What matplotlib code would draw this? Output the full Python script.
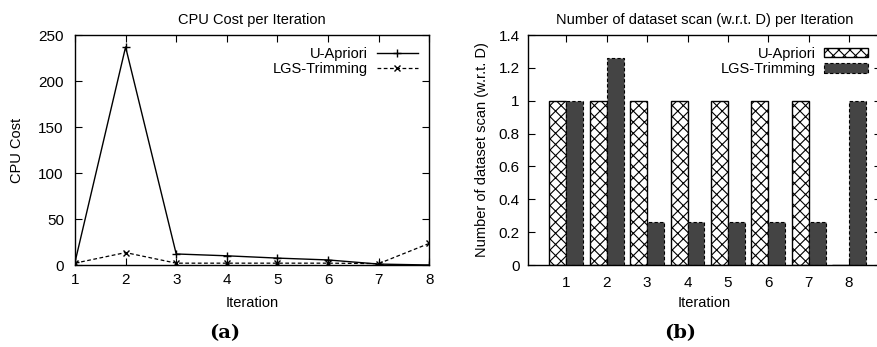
import numpy as np
import matplotlib
matplotlib.use('Agg')
import matplotlib.pyplot as plt
from matplotlib.patches import Patch

plt.rcParams['font.family'] = ['Liberation Sans', 'DejaVu Sans']
plt.rcParams['hatch.linewidth'] = 0.8

iterations = [1, 2, 3, 4, 5, 6, 7, 8]
cpu_uapriori = [3, 237, 12, 10, 7.5, 5.5, 1, 0]
cpu_lgs = [2, 13.5, 2, 2, 2, 2, 1.5, 23.5]
scan_uapriori = [1, 1, 1, 1, 1, 1, 1, 0]
scan_lgs = [1, 1.26, 0.26, 0.26, 0.26, 0.26, 0.26, 1]

fig = plt.figure(figsize=(8.77, 3.47), dpi=100)

# (a) CPU cost
ax1 = fig.add_axes([0.0855, 0.2363, 0.404, 0.6628])
ax1.plot(iterations, cpu_uapriori, color='black', lw=1, marker='+', ms=6,
         mew=1, label='U-Apriori')
ax1.plot(iterations, cpu_lgs, color='black', lw=0.9, ls=(0, (3, 2)), marker='x',
         ms=5, mew=1, label='LGS-Trimming')
ax1.set_xlim(1, 8)
ax1.set_ylim(0, 250)
ax1.set_xticks(iterations)
ax1.set_yticks(np.arange(0, 251, 50))
ax1.tick_params(direction='in', top=True, right=True, labelsize=11, length=5,
                pad=6)
ax1.tick_params(axis='y', pad=8)
ax1.set_title('CPU Cost per Iteration', fontsize=10.5, pad=8)
ax1.set_xlabel('Iteration', fontsize=10.5, labelpad=6)
ax1.set_ylabel('CPU Cost', fontsize=10.5, labelpad=10)
ax1.legend(loc='upper right', frameon=False, markerfirst=False, fontsize=10.5,
           handlelength=2.8, labelspacing=0.1, borderaxespad=0.4,
           handletextpad=0.6)
for s in ax1.spines.values():
    s.set_linewidth(1)

# (b) number of dataset scans
ax2 = fig.add_axes([0.602, 0.2363, 0.403, 0.6628])
x = np.array(iterations)
w = 0.42
ax2.bar(x - w / 2, scan_uapriori, w, color='white', edgecolor='black',
        hatch='xxx', lw=1, label='U-Apriori')
ax2.bar(x + w / 2, scan_lgs, w, color='#444444', edgecolor='black',
        lw=0.8, ls=(0, (3, 2)), label='LGS-Trimming')
ax2.set_xlim(0.05, 8.8)
ax2.set_ylim(0, 1.4)
ax2.set_xticks(iterations)
ax2.set_yticks([0, 0.2, 0.4, 0.6, 0.8, 1, 1.2, 1.4])
ax2.set_yticklabels(['0', '0.2', '0.4', '0.6', '0.8', '1', '1.2', '1.4'])
ax2.tick_params(direction='in', top=True, right=True, labelsize=11, length=5,
                pad=8)
ax2.tick_params(axis='y', pad=6)
ax2.set_title('Number of dataset scan (w.r.t. D) per Iteration', fontsize=10.5,
              pad=8)
ax2.set_xlabel('Iteration', fontsize=10.5, labelpad=4)
ax2.set_ylabel('Number of dataset scan (w.r.t. D)', fontsize=10.5, labelpad=7)
handles = [Patch(facecolor='white', edgecolor='black', hatch='xxx', lw=1),
           Patch(facecolor='#444444', edgecolor='black', lw=0.8,
                 ls=(0, (3, 2)))]
ax2.legend(handles, ['U-Apriori', 'LGS-Trimming'], loc='upper right',
           frameon=False, markerfirst=False, fontsize=10.5, handlelength=3.0,
           handleheight=0.6, labelspacing=0.1, borderaxespad=0.4,
           bbox_to_anchor=(0.995, 1.0), handletextpad=0.6)
for s in ax2.spines.values():
    s.set_linewidth(1)

fig.text(0.2565, 0.04, '(a)', fontsize=14, fontweight='bold',
         family='DejaVu Serif', ha='center', va='center')
fig.text(0.776, 0.04, '(b)', fontsize=14, fontweight='bold',
         family='DejaVu Serif', ha='center', va='center')

fig.savefig('out.png', dpi=100)
